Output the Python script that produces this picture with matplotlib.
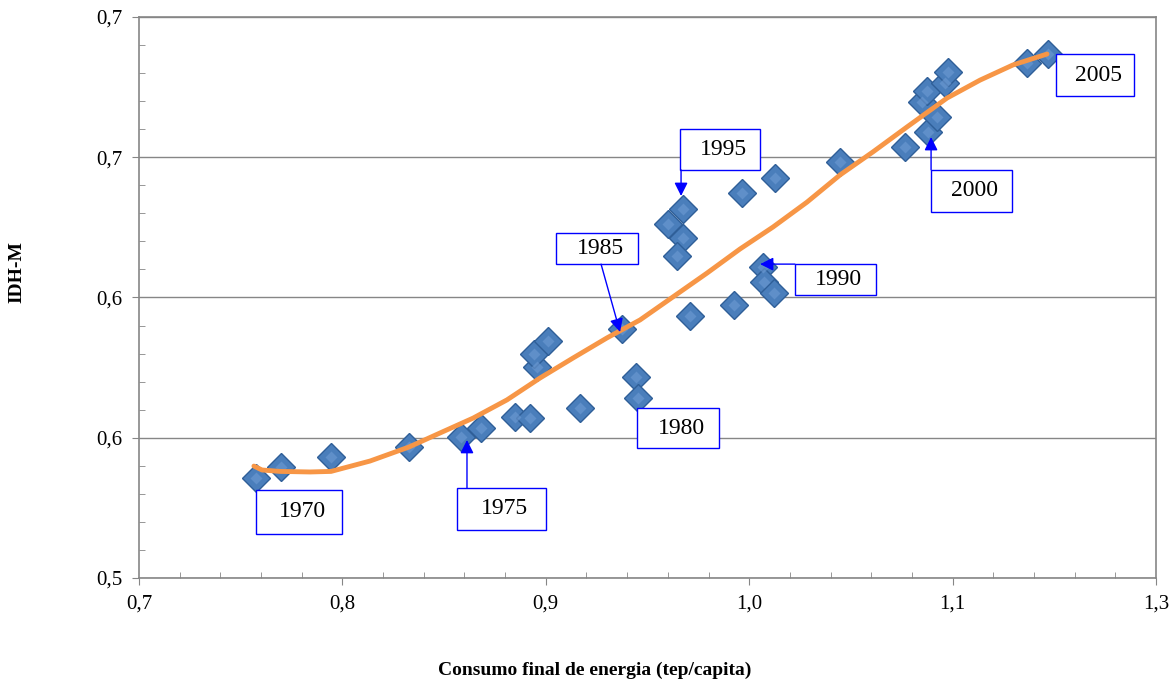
from decimal import Decimal, ROUND_HALF_UP
import numpy as np
import matplotlib
matplotlib.use("Agg")
import matplotlib.pyplot as plt
from matplotlib.patches import Rectangle
from matplotlib.ticker import FixedLocator, FuncFormatter

# Energy consumption (tep/capita) vs IDH-M, one point per year 1970-2005
consumo = [0.7190, 0.7338, 0.7633, 0.8093, 0.8400, 0.8518, 0.8718, 0.8807,
           0.9102, 0.8848, 0.8830, 0.8913, 0.9350, 0.9432, 0.9444, 0.9751,
           1.0010, 0.9621, 0.9709, 0.9709, 0.9674, 1.0058, 1.0252, 1.0181,
           1.0187, 1.0246, 1.0636, 1.1019, 1.1155, 1.1208, 1.1119, 1.1149,
           1.1255, 1.1273, 1.1739, 1.1863]
idh = [0.5357, 0.5396, 0.5431, 0.5467, 0.5503, 0.5535, 0.5574, 0.5570,
       0.5606, 0.5752, 0.5799, 0.5845, 0.5888, 0.5717, 0.5642, 0.5934,
       0.5973, 0.6262, 0.6316, 0.6212, 0.6148, 0.6373, 0.6426, 0.6109,
       0.6055, 0.6016, 0.6483, 0.6537, 0.6590, 0.6643, 0.6697, 0.6736,
       0.6765, 0.6804, 0.6836, 0.6868]

# trend line
trend_x = [0.7178, 0.7226, 0.7332, 0.7509, 0.7633, 0.7863, 0.8093, 0.8276,
           0.8471, 0.8671, 0.8866, 0.9060, 0.9261, 0.9456, 0.9650, 0.9851,
           1.0046, 1.0240, 1.0441, 1.0636, 1.0830, 1.1031, 1.1267, 1.1462,
           1.1656, 1.1857]
trend_y = [0.5399, 0.5385, 0.5380, 0.5378, 0.5380, 0.5417, 0.5467, 0.5517,
           0.5570, 0.5635, 0.5713, 0.5784, 0.5856, 0.5920, 0.6002, 0.6087,
           0.6173, 0.6251, 0.6340, 0.6437, 0.6519, 0.6608, 0.6711, 0.6775,
           0.6829, 0.6868]

anos = ["1970", "1975", "1980", "1985", "1990", "1995", "2000", "2005"]

# label boxes: (left, right, bottom, top), arrow start and end (or None)
caixas = [
    ((0.7190, 0.7698, 0.5157, 0.5314), None),
    ((0.8376, 0.8901, 0.5171, 0.5321), ((0.8435, 0.5321), (0.8435, 0.5492))),
    ((0.9438, 0.9922, 0.5463, 0.5606), None),
    ((0.8960, 0.9444, 0.6119, 0.6230), ((0.9226, 0.6119), (0.9338, 0.5877))),
    ((1.0370, 1.0848, 0.6009, 0.6119), ((1.0370, 0.6119), (1.0164, 0.6119))),
    ((0.9692, 1.0164, 0.6455, 0.6601), ((0.9698, 0.6455), (0.9698, 0.6362))),
    ((1.1173, 1.1650, 0.6305, 0.6455), ((1.1173, 0.6455), (1.1173, 0.6572))),
    ((1.1910, 1.2370, 0.6718, 0.6868), None),
]

plt.rcParams["font.family"] = ["Liberation Serif", "DejaVu Serif"]
cinza = "#868686"


def virgula(v, pos):
    d = Decimal(str(round(v, 6))).quantize(Decimal("0.1"), rounding=ROUND_HALF_UP)
    return str(d).replace(".", ",")


fig = plt.figure(figsize=(11.7, 6.82), dpi=100)
ax = fig.add_axes([139 / 1170, 1 - 578 / 682, 1017 / 1170, 561 / 682])

ax.set_xlim(0.65, 1.25)
ax.set_ylim(0.5, 0.7)
ax.xaxis.set_major_locator(FixedLocator(np.arange(0.65, 1.2501, 0.12)))
ax.xaxis.set_minor_locator(FixedLocator(np.arange(0.65, 1.25, 0.024)))
ax.yaxis.set_major_locator(FixedLocator(np.arange(0.5, 0.7001, 0.05)))
ax.yaxis.set_minor_locator(FixedLocator(np.arange(0.5, 0.7, 0.01)))
ax.xaxis.set_major_formatter(FuncFormatter(virgula))
ax.yaxis.set_major_formatter(FuncFormatter(virgula))

ax.grid(axis="y", which="major", color=cinza, linewidth=1)
ax.set_axisbelow(True)
for s in ax.spines.values():
    s.set_color(cinza)
    s.set_linewidth(1.2)
ax.tick_params(which="major", direction="out", length=5, color=cinza,
               labelsize=15, pad=7)
ax.tick_params(which="minor", direction="in", length=4, color=cinza)
ax.tick_params(axis="x", which="both", top=False)
ax.tick_params(axis="y", which="both", right=False)

ax.plot(consumo, idh, linestyle="none", marker="D", markersize=14,
        markerfacecolor="#4A7EBB", markeredgecolor="#2F5F98",
        markeredgewidth=1, zorder=3)
ax.plot(consumo, idh, linestyle="none", marker="D", markersize=6,
        markerfacecolor="#6E9BD3", markeredgecolor="none", alpha=0.6,
        zorder=3)
ax.plot(trend_x, trend_y, color="#F79646", linewidth=3.5,
        solid_capstyle="round", zorder=4)

for ano, ((x0, x1, y0, y1), seta) in zip(anos, caixas):
    ax.add_patch(Rectangle((x0, y0), x1 - x0, y1 - y0, facecolor="white",
                           edgecolor="blue", linewidth=1, zorder=5))
    ax.text((x0 + x1) / 2 + 0.002, (y0 + y1) / 2, ano,
            fontsize=17, ha="center", va="center", zorder=6)
    if seta:
        ax.annotate("", xy=seta[1], xytext=seta[0],
                    arrowprops=dict(arrowstyle="-|>", color="blue", lw=1,
                                    mutation_scale=20, shrinkA=0, shrinkB=0),
                    zorder=6)

fig.text(595 / 1170, 1 - 670 / 682, "Consumo final de energia (tep/capita)",
         weight="bold", fontsize=14, ha="center", va="center")
fig.text(17 / 1170, 1 - 272 / 682, "IDH-M", weight="bold",
         fontsize=14, rotation=90, ha="center", va="center")

fig.savefig("out.png", dpi=100)
